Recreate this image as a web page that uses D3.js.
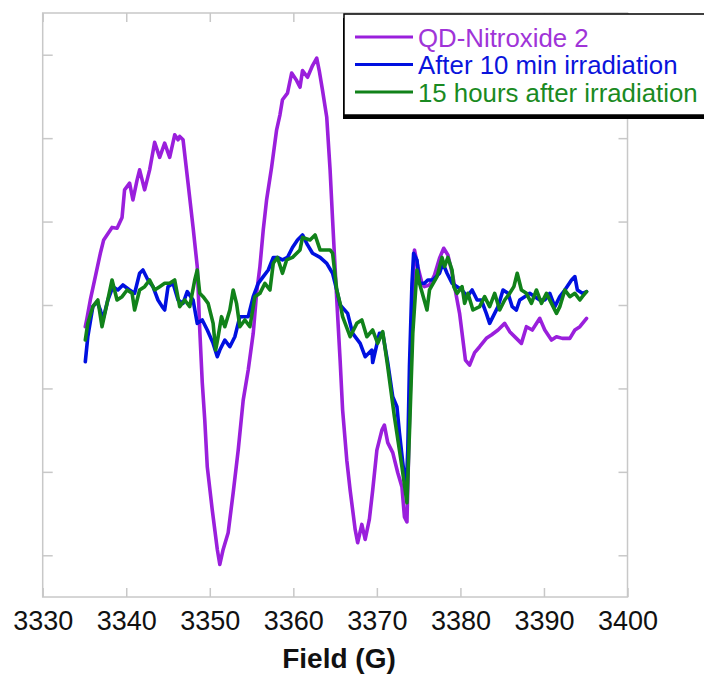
<!DOCTYPE html>
<html>
<head>
<meta charset="utf-8">
<script src="https://cdnjs.cloudflare.com/ajax/libs/d3/7.8.5/d3.min.js"></script>
<style>
  body { margin: 0; background: #fff; }
  svg { display: block; font-family: Arial, "Liberation Sans", sans-serif; }
</style>
</head>
<body>
<div id="graph"></div>
<script>
// EPR spectra, field in G, intensity in arbitrary units (unlabeled axis)
var seriesNames = ["QD-Nitroxide 2", "After 10 min irradiation", "15 hours after irradiation"];
var fieldTicks = [3330, 3340, 3350, 3360, 3370, 3380, 3390, 3400];
var signalTicks = [-3, -2, -1, 0, 1, 2, 3];

var qdField = [3335.1, 3335.3, 3335.7, 3336.3, 3336.9, 3337.3, 3337.7, 3338.3, 3338.9, 3339.5,
  3339.8, 3340.4, 3340.8, 3341.3, 3341.6, 3342.2, 3342.8, 3343.4, 3344.0, 3344.6,
  3345.2, 3345.8, 3346.2, 3346.4, 3346.8, 3347.4, 3348.0, 3348.5, 3348.8, 3349.1,
  3349.4, 3349.7, 3350.3, 3350.9, 3351.2, 3351.6, 3352.2, 3352.8, 3353.4, 3354.0,
  3354.6, 3355.2, 3355.6, 3356.0, 3356.4, 3356.8, 3357.4, 3358.0, 3358.4, 3358.7,
  3359.3, 3359.8, 3360.4, 3360.8, 3361.1, 3361.7, 3362.3, 3362.8, 3363.1, 3363.5,
  3364.0, 3364.4, 3364.7, 3365.2, 3365.6, 3365.9, 3366.4, 3366.8, 3367.4, 3367.7,
  3368.2, 3368.6, 3369.1, 3369.5, 3370.0, 3370.6, 3370.9, 3371.3, 3371.9, 3372.5,
  3373.0, 3373.3, 3373.6, 3373.9, 3374.2, 3374.5, 3374.9, 3375.4, 3375.7, 3376.3,
  3376.9, 3377.5, 3378.0, 3378.5, 3379.1, 3379.6, 3379.9, 3380.3, 3380.6, 3381.1,
  3381.7, 3382.3, 3383.1, 3383.7, 3384.5, 3385.3, 3385.9, 3386.7, 3387.3, 3387.9,
  3388.6, 3389.5, 3390.1, 3390.9, 3391.5, 3392.2, 3393.1, 3393.7, 3394.3, 3395.1];
var qdSignal = [-0.26, -0.16, 0.06, 0.34, 0.62, 0.78, 0.84, 0.93, 0.92, 1.05,
  1.38, 1.46, 1.26, 1.50, 1.62, 1.38, 1.62, 1.95, 1.77, 1.94,
  1.77, 2.04, 1.98, 2.02, 1.98, 1.46, 0.93, 0.46, -0.30, -0.93,
  -1.38, -1.94, -2.46, -2.93, -3.11, -2.93, -2.73, -2.25, -1.74, -1.14,
  -0.78, -0.34, 0.14, 0.46, 0.90, 1.26, 1.65, 2.10, 2.28, 2.46,
  2.54, 2.78, 2.69, 2.61, 2.81, 2.73, 2.87, 2.96, 2.81, 2.57,
  2.25, 1.62, 1.02, 0.06, -0.66, -1.26, -1.86, -2.22, -2.69, -2.85,
  -2.63, -2.81, -2.57, -2.22, -1.74, -1.50, -1.44, -1.65, -1.77, -2.01,
  -2.18, -2.54, -2.60, -1.38, -0.34, 0.66, 0.46, 0.26, 0.22, 0.24,
  0.36, 0.56, 0.68, 0.60, 0.34, 0.06, -0.10, -0.42, -0.66, -0.72,
  -0.57, -0.50, -0.40, -0.36, -0.30, -0.22, -0.32, -0.40, -0.46, -0.26,
  -0.30, -0.16, -0.30, -0.42, -0.38, -0.40, -0.40, -0.30, -0.26, -0.16];

var irrField = [3335.1, 3335.4, 3336.0, 3336.5, 3336.9, 3337.2, 3337.8, 3338.4, 3339.0, 3339.6,
  3340.4, 3341.0, 3341.6, 3342.0, 3342.6, 3343.2, 3343.8, 3344.3, 3344.6, 3345.0,
  3345.6, 3346.2, 3346.8, 3347.3, 3348.0, 3348.5, 3349.1, 3349.7, 3350.4, 3350.9,
  3351.2, 3351.8, 3352.4, 3353.0, 3353.6, 3354.6, 3355.2, 3355.8, 3356.4, 3357.0,
  3357.6, 3358.1, 3358.7, 3359.3, 3359.9, 3360.5, 3361.1, 3361.7, 3362.3, 3363.2,
  3364.0, 3364.7, 3365.2, 3365.6, 3366.5, 3367.1, 3368.0, 3368.6, 3369.4, 3369.5,
  3370.3, 3370.7, 3371.3, 3371.9, 3372.4, 3372.7, 3373.1, 3373.5, 3373.7, 3373.9,
  3374.2, 3374.4, 3374.8, 3375.1, 3375.7, 3376.1, 3376.7, 3377.5, 3377.9, 3378.4,
  3379.0, 3379.6, 3380.2, 3380.8, 3381.4, 3382.0, 3382.5, 3383.1, 3383.5, 3383.9,
  3384.5, 3385.1, 3385.7, 3386.2, 3386.7, 3387.1, 3387.7, 3388.3, 3388.9, 3389.5,
  3390.1, 3390.7, 3391.3, 3391.9, 3392.5, 3393.3, 3393.7, 3394.0, 3394.6, 3395.1];
var irrSignal = [-0.68, -0.38, -0.02, 0.04, -0.06, -0.18, 0.06, 0.22, 0.18, 0.24,
  0.18, 0.14, 0.38, 0.42, 0.30, 0.22, 0.06, -0.02, -0.06, 0.22,
  0.26, 0.06, 0.02, 0.16, 0.06, -0.22, -0.18, -0.30, -0.46, -0.62,
  -0.54, -0.42, -0.50, -0.38, -0.14, -0.14, 0.10, 0.26, 0.34, 0.42,
  0.57, 0.57, 0.54, 0.57, 0.69, 0.78, 0.84, 0.72, 0.62, 0.57,
  0.50, 0.38, 0.18, 0.00, -0.10, -0.34, -0.46, -0.62, -0.54, -0.69,
  -0.34, -0.34, -0.69, -1.10, -1.22, -1.53, -1.89, -2.24, -1.74, -0.74,
  0.26, 0.62, 0.54, 0.26, 0.26, 0.30, 0.30, 0.38, 0.50, 0.38,
  0.26, 0.22, 0.18, 0.10, 0.18, 0.06, 0.06, -0.10, -0.22, -0.14,
  -0.02, 0.18, 0.14, -0.02, -0.06, 0.06, 0.10, 0.14, 0.10, 0.06,
  0.06, 0.14, -0.02, 0.10, 0.18, 0.30, 0.34, 0.18, 0.14, 0.16];

var laterField = [3335.1, 3335.4, 3336.0, 3336.6, 3337.1, 3337.7, 3338.3, 3338.9, 3339.5, 3340.1,
  3340.7, 3341.0, 3341.6, 3342.2, 3342.8, 3343.4, 3344.0, 3344.6, 3345.2, 3345.8,
  3346.4, 3347.0, 3347.6, 3348.2, 3348.5, 3348.8, 3349.2, 3349.8, 3350.4, 3350.7,
  3351.0, 3351.4, 3351.8, 3352.4, 3352.8, 3353.2, 3353.6, 3354.2, 3354.8, 3355.4,
  3356.0, 3356.6, 3357.2, 3357.6, 3358.1, 3358.7, 3359.2, 3359.9, 3360.8, 3361.1,
  3362.0, 3362.6, 3363.2, 3364.4, 3364.7, 3365.2, 3365.6, 3365.9, 3366.8, 3367.6,
  3368.2, 3368.8, 3369.5, 3370.1, 3370.7, 3371.3, 3372.1, 3373.0, 3373.6, 3373.9,
  3374.3, 3374.8, 3375.1, 3376.0, 3376.3, 3377.2, 3377.8, 3378.1, 3378.5, 3379.0,
  3379.2, 3379.6, 3380.2, 3380.5, 3380.9, 3381.5, 3382.3, 3382.9, 3383.5, 3384.1,
  3384.7, 3385.3, 3385.9, 3386.4, 3386.8, 3387.3, 3387.9, 3388.5, 3389.1, 3389.7,
  3390.3, 3390.9, 3391.5, 3391.9, 3392.5, 3393.1, 3393.7, 3394.3, 3394.6, 3395.1];
var laterSignal = [-0.42, -0.22, -0.02, 0.06, -0.26, 0.02, 0.30, 0.06, 0.10, 0.18,
  0.14, -0.06, 0.18, 0.22, 0.30, 0.18, 0.22, 0.26, 0.26, 0.30,
  -0.02, 0.06, -0.02, 0.30, 0.42, 0.14, 0.10, 0.02, -0.22, -0.54,
  -0.38, -0.14, -0.26, -0.06, 0.18, 0.02, -0.26, -0.18, -0.26, 0.10,
  0.14, 0.26, 0.18, 0.50, 0.57, 0.38, 0.54, 0.57, 0.66, 0.81,
  0.78, 0.84, 0.66, 0.66, 0.62, 0.18, 0.02, -0.14, -0.38, -0.22,
  -0.18, -0.38, -0.30, -0.46, -0.32, -0.74, -1.34, -1.94, -2.37, -1.53,
  -0.34, 0.42, 0.26, -0.06, 0.18, 0.34, 0.57, 0.46, 0.57, 0.42,
  0.22, 0.14, 0.22, 0.02, 0.14, -0.06, -0.02, 0.10, -0.02, 0.14,
  -0.06, 0.06, 0.14, 0.22, 0.38, 0.18, 0.14, 0.02, 0.18, 0.02,
  0.14, 0.02, -0.10, -0.02, 0.18, 0.10, 0.14, 0.06, 0.10, 0.16];

function plotSpectra() {
    var width = 704, height = 678;
    var left = 42.7, right = 627.5, top = 13, bottom = 597;

    var x = d3.scaleLinear().domain([3330, 3400]).range([left, right]);
    var y = d3.scaleLinear().domain([-3.5, 3.5]).range([bottom, top]);

    var svg = d3.select("#graph").append("svg")
        .attr("width", width)
        .attr("height", height);

    var tickColor = "#c8c8c8";

    // inward ticks on all four sides
    var xAxis = d3.axisBottom(x).tickValues(fieldTicks).tickSize(-9).tickPadding(14).tickFormat(d3.format("d"));
    var gx = svg.append("g")
        .attr("transform", "translate(0," + bottom + ")")
        .call(xAxis);
    gx.select(".domain").remove();
    gx.selectAll("line").attr("stroke", tickColor).attr("stroke-width", 1.5);
    gx.selectAll("text").attr("fill", "#111").style("font-size", "27px");

    var gxt = svg.append("g")
        .attr("transform", "translate(0," + top + ")")
        .call(d3.axisTop(x).tickValues(fieldTicks).tickSize(-9).tickFormat(""));
    gxt.select(".domain").remove();
    gxt.selectAll("line").attr("stroke", tickColor).attr("stroke-width", 1.5);

    var gyl = svg.append("g")
        .attr("transform", "translate(" + left + ",0)")
        .call(d3.axisLeft(y).tickValues(signalTicks).tickSize(-10).tickFormat(""));
    gyl.select(".domain").remove();
    gyl.selectAll("line").attr("stroke", tickColor).attr("stroke-width", 1.5);

    var gyr = svg.append("g")
        .attr("transform", "translate(" + right + ",0)")
        .call(d3.axisRight(y).tickValues(signalTicks).tickSize(-9).tickFormat(""));
    gyr.select(".domain").remove();
    gyr.selectAll("line").attr("stroke", tickColor).attr("stroke-width", 1.5);

    // frame
    svg.append("rect")
        .attr("x", left).attr("y", top)
        .attr("width", right - left).attr("height", bottom - top)
        .attr("fill", "none")
        .attr("stroke", tickColor)
        .attr("stroke-width", 1.5);

    svg.append("text")
        .attr("x", 339).attr("y", 668)
        .attr("text-anchor", "middle")
        .style("font-size", "28px")
        .style("font-weight", "bold")
        .attr("fill", "#111")
        .text("Field (G)");

    var colors = ["#9a1fdc", "#0010e0", "#11821a"];
    var textColors = ["#a034d8", "#0a14dc", "#1a8a22"];
    var series = [
        { field: qdField, signal: qdSignal },
        { field: irrField, signal: irrSignal },
        { field: laterField, signal: laterSignal }
    ];

    var line = d3.line()
        .x(function (d) { return x(d[0]); })
        .y(function (d) { return y(d[1]); });

    series.forEach(function (s, i) {
        var pts = s.field.map(function (f, j) { return [f, s.signal[j]]; });
        svg.append("path")
            .datum(pts)
            .attr("fill", "none")
            .attr("stroke", colors[i])
            .attr("stroke-width", 3.6)
            .attr("stroke-linejoin", "round")
            .attr("stroke-linecap", "round")
            .attr("d", line);
    });

    // legend box with shadow
    var lg = svg.append("g").attr("transform", "translate(344,14)");
    lg.append("rect")
        .attr("x", -1).attr("y", 4)
        .attr("width", 380).attr("height", 101)
        .attr("fill", "#000");
    lg.append("rect")
        .attr("x", 0).attr("y", 0)
        .attr("width", 378).attr("height", 101)
        .attr("fill", "#fff")
        .attr("stroke", "#000")
        .attr("stroke-width", 1.5);

    seriesNames.forEach(function (name, i) {
        var cy = 23 + i * 27.5;
        lg.append("line")
            .attr("x1", 11).attr("x2", 69)
            .attr("y1", cy).attr("y2", cy)
            .attr("stroke", colors[i])
            .attr("stroke-width", 3);
        lg.append("text")
            .attr("x", 74).attr("y", cy + 9.5)
            .style("font-size", "25.8px")
            .attr("fill", textColors[i])
            .text(name);
    });
}
plotSpectra();
</script>
</body>
</html>
